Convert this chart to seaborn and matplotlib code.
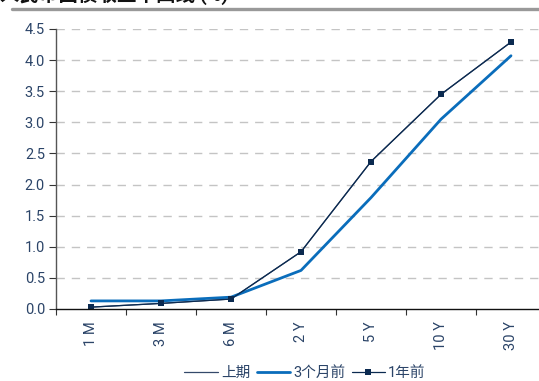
import matplotlib
matplotlib.use("Agg")
import matplotlib.pyplot as plt
from matplotlib.lines import Line2D
from matplotlib.ticker import FixedLocator
import seaborn as sns
import pandas as pd

# Tenors and yields (%)
tenors = ["1 M", "3 M", "6 M", "2 Y", "5 Y", "10 Y", "30 Y"]
prev_period = [0.03, 0.09, 0.16, 0.92, 2.37, 3.45, 4.29]
three_months_ago = [0.13, 0.13, 0.19, 0.62, 1.79, 3.05, 4.07]
one_year_ago = [0.03, 0.09, 0.16, 0.92, 2.37, 3.45, 4.29]
y_ticks = [0.0, 0.5, 1.0, 1.5, 2.0, 2.5, 3.0, 3.5, 4.0, 4.5]

sns.set_theme(style="white")
plt.rcParams["font.family"] = ["Roboto", "Noto Sans CJK SC", "DejaVu Sans"]

label_color = "#2b4468"
c_prev = "#34496a"
c_3m = "#0a6dbb"
c_1y = "#0b2a50"

fig = plt.figure(figsize=(5.39, 3.81), dpi=100)
ax = fig.add_axes([56 / 539, 72 / 381, 490 / 539, 280 / 381])

df = pd.DataFrame({
    "tenor": tenors,
    "prev": prev_period,
    "m3": three_months_ago,
    "y1": one_year_ago,
})

sns.lineplot(data=df, x="tenor", y="prev", ax=ax, color=c_prev, lw=0.9,
             sort=False, legend=False)
sns.lineplot(data=df, x="tenor", y="m3", ax=ax, color=c_3m, lw=2.0,
             sort=False, legend=False)
sns.lineplot(data=df, x="tenor", y="y1", ax=ax, color=c_1y, lw=0.9,
             marker="s", markersize=4, markeredgewidth=0, sort=False,
             legend=False)

ax.set_xlim(-0.5, 6.5)
ax.set_ylim(0, 4.5)
ax.set_xlabel("")
ax.set_ylabel("")

# dashed horizontal grid
ax.set_yticks(y_ticks)
ax.set_yticklabels([f"{v:.1f}" for v in y_ticks])
for v in y_ticks[1:]:
    ax.axhline(v, color="#c4c4c4", lw=1.0, ls=(0, (6, 5)), zorder=0)

# x ticks: labels at categories, tick marks at category boundaries
ax.set_xticks(range(len(tenors)))
ax.set_xticklabels(tenors, rotation=90)
ax.xaxis.set_minor_locator(FixedLocator([i - 0.5 for i in range(len(tenors) + 1)]))
ax.tick_params(axis="x", which="major", length=0, pad=9,
               labelsize=10.5, labelcolor=label_color)
ax.tick_params(axis="x", which="minor", length=4, width=0.8,
               color="#333333", direction="out", bottom=True)
ax.tick_params(axis="y", which="major", length=5, width=0.8,
               color="#333333", direction="out", left=True,
               labelsize=10.5, labelcolor=label_color, pad=3)

for s in ["top", "right"]:
    ax.spines[s].set_visible(False)
ax.spines["left"].set_color("#555555")
ax.spines["left"].set_linewidth(1.0)
ax.spines["bottom"].set_color("#111111")
ax.spines["bottom"].set_linewidth(1.0)

handles = [
    Line2D([], [], color=c_prev, lw=0.9),
    Line2D([], [], color=c_3m, lw=2.0),
    Line2D([], [], color=c_1y, lw=0.9, marker="s", markersize=4,
           markeredgewidth=0),
]
leg = fig.legend(handles, ["上期", "3个月前", "1年前"], ncol=3,
                 loc="center", bbox_to_anchor=(305 / 539, 8 / 381),
                 frameon=False, fontsize=10.5, handlelength=2.3,
                 handletextpad=0.2, columnspacing=0.45)
for t in leg.get_texts():
    t.set_color(label_color)

# header rule and cropped title
fig.add_artist(Line2D([12 / 539, 1.0], [1 - 8.5 / 381, 1 - 8.5 / 381],
                      transform=fig.transFigure, color="#999999", lw=2.4))
fig.text(0.0, 1 - 1 / 381, "人民币国债收益率曲线 (%)", fontsize=14,
         fontweight="bold", color="#111111", va="baseline", ha="left")

fig.savefig("out.png", dpi=100)
